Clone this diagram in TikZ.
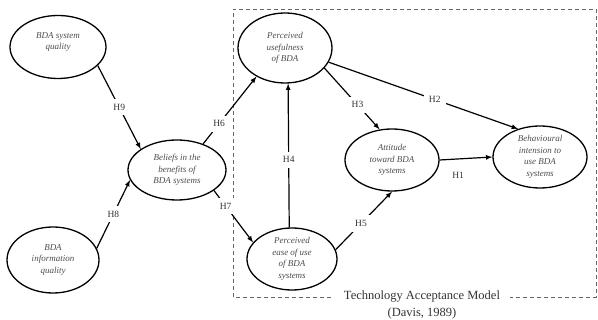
\documentclass[tikz,border=0pt]{standalone}
\usepackage{fontspec}
\setmainfont{Liberation Serif}
\usetikzlibrary{shapes.geometric}
\usetikzlibrary{positioning}
\usetikzlibrary{arrows}

\begin{document}
\begin{tikzpicture}[>=latex,x=1pt,y=1pt,on grid, construct/.style={ellipse,draw,line width=1.3pt,inner sep=0pt,align=center,text=black!70,font=\fontsize{9}{11.5}\selectfont\itshape}, hyp/.style={fill=white,inner sep=5pt,text=black!80,font=\fontsize{9.5}{11}\selectfont}, link/.style={->,line width=1.2pt}, ]

	\useasboundingbox (0,0) rectangle (598,-320);

	% TAM box
	\draw[dashed,dash pattern=on 4pt off 3pt,black!60,line width=0.6pt] (233,-297) -- (233,-9) -- (596,-9) -- (596,-297) -- cycle;
	\node[fill=white,inner xsep=10pt,inner ysep=1pt,text=black!80,font=\fontsize{12.5}{14}\selectfont] (tam) at (422,-297) {Technology Acceptance Model};
	\node[below=16pt of tam,text=black!80,font=\fontsize{12.5}{14}\selectfont] (davis) {(Davis, 1989)};

	\node[construct,minimum width=96pt,minimum height=63pt] (sq) at (58,-47) {BDA system\\quality\\\mbox{}};
	\node[construct,minimum width=92pt,minimum height=66pt] (iq) at (53,-260) {BDA\\information\\quality};
	\node[construct,minimum width=98pt,minimum height=60pt] (bel) at (177,-170) {Beliefs in the\\benefits of\\BDA systems};
	\node[construct,minimum width=94pt,minimum height=70pt] (pu) at (285,-48) {Perceived\\usefulness\\of BDA};
	\node[construct,minimum width=90pt,minimum height=62pt] (peou) at (292,-259) {Perceived\\ease of use\\of BDA\\systems};
	\node[construct,minimum width=94pt,minimum height=62pt] (att) at (392,-160) {Attitude\\toward BDA\\systems};
	\node[construct,minimum width=94pt,minimum height=62pt] (beh) at (540,-157) {Behavioural\\intension to\\use BDA\\systems};

	\draw[link] (sq.-25) to node[hyp] {H9} (bel.150);
	\draw[link] (iq.15) to node[hyp] {H8} (bel.192);
	\draw[link] (bel.45) to node[hyp,pos=0.3] {H6} (pu.225);
	\draw[link] (bel.-29) to node[hyp,pos=0.3] {H7} (peou.157);
	\draw[link] (peou.95) to node[hyp,pos=0.47] {H4} (pu.-85);
	\draw[link] (pu.-27) to node[hyp,pos=0.6] {H3} (att.112);
	\draw[link] (pu.-18) to node[hyp,pos=0.56] {H2} (beh.128);
	\draw[link] (peou.12) to node[hyp,pos=0.45] {H5} (att.-90);
	\draw[link] (att.east) to node[pos=0.35,below=9pt,text=black!80,font=\fontsize{9.5}{11}\selectfont] {H1} (beh.west);

\end{tikzpicture}
\end{document}
